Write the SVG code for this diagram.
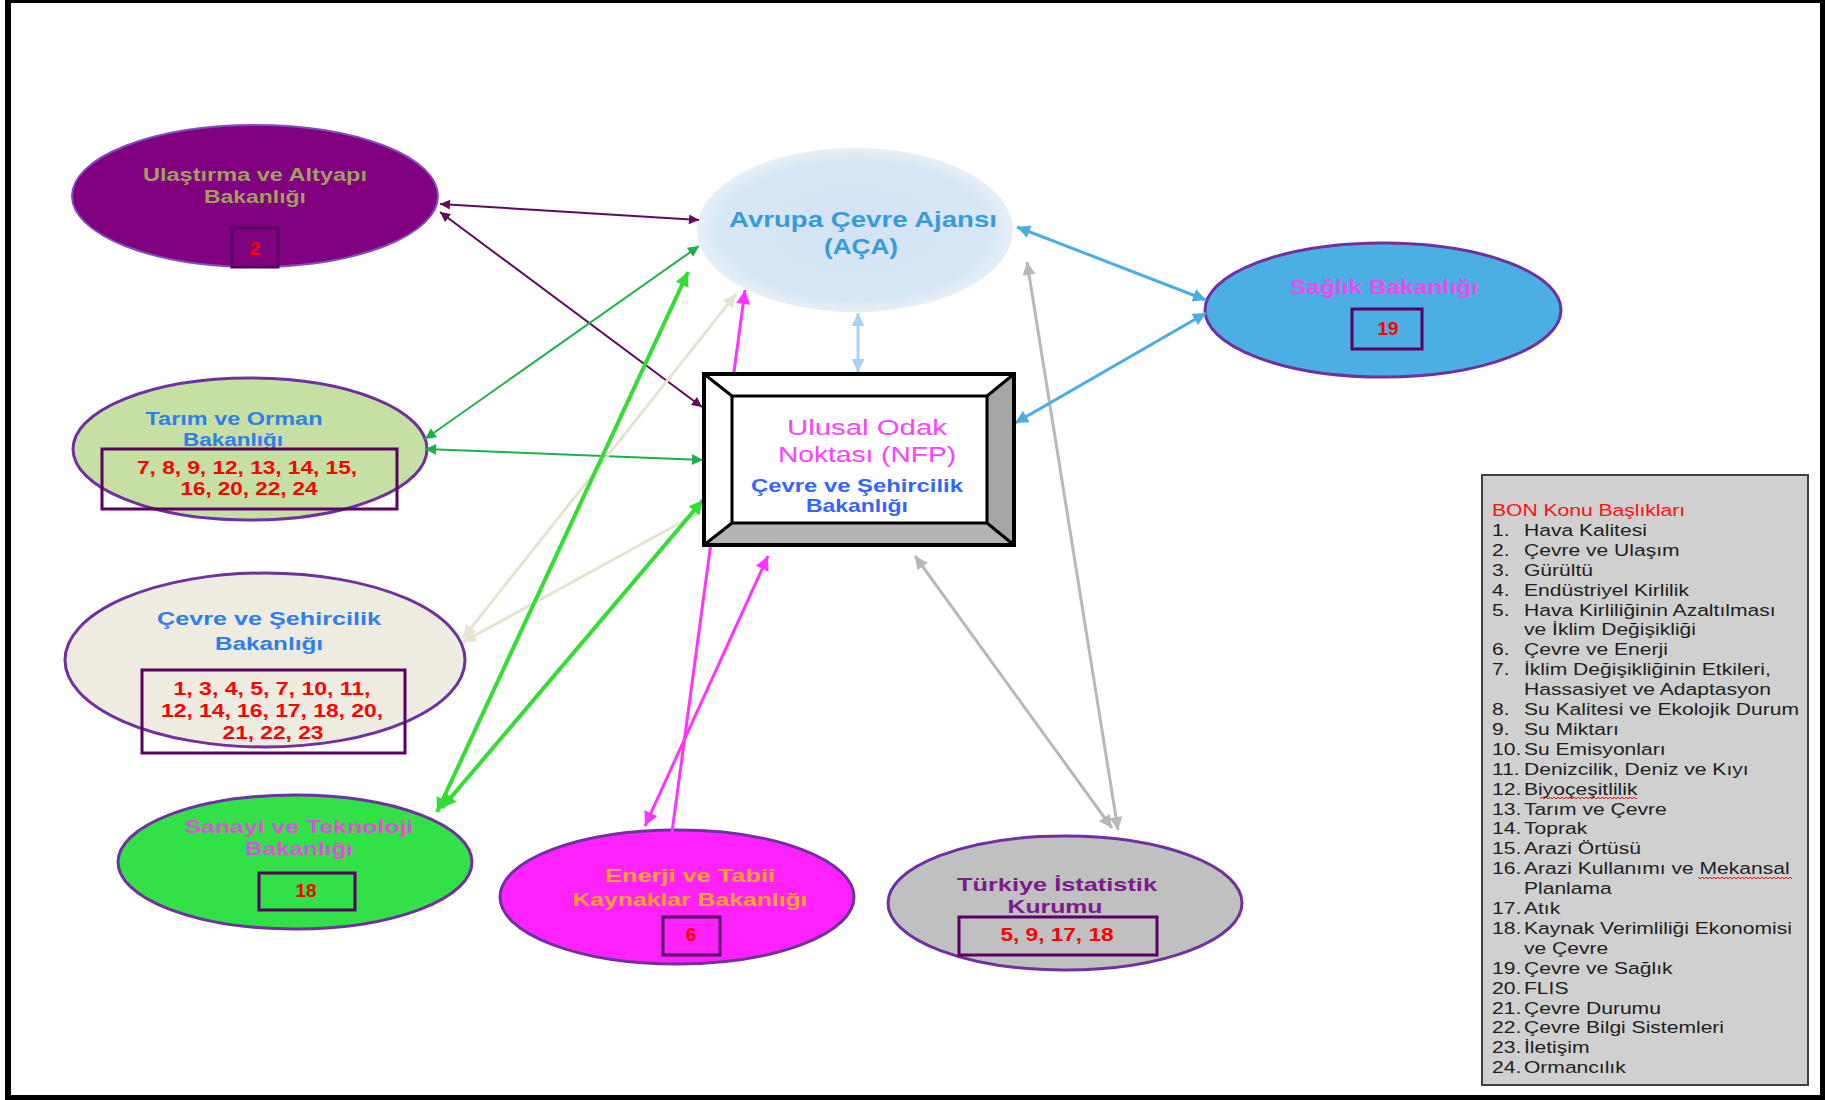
<svg xmlns="http://www.w3.org/2000/svg" width="1825" height="1100" viewBox="0 0 1825 1100">
<style>
text{font-family:"Liberation Sans",Arial,sans-serif;}
.b{font-weight:bold;}
.c{text-anchor:middle;}
.num{font-weight:bold;fill:#FF0000;text-anchor:middle;font-size:19px;}
.box{fill:none;stroke:#5A0060;stroke-width:3;}
.ell{stroke:#7030A0;stroke-width:3;}
.leg text{font-size:17px;fill:#1e1e1e;}
.con line{fill:none;}
</style>
<defs>
<marker id="aPur" viewBox="0 0 10 10" refX="10" refY="5" markerUnits="userSpaceOnUse" markerWidth="12" markerHeight="10" orient="auto-start-reverse"><path d="M0,0 L10,5 L0,10 z" fill="#5E0A5E"/></marker>
<marker id="aGrn" viewBox="0 0 10 10" refX="10" refY="5" markerUnits="userSpaceOnUse" markerWidth="13" markerHeight="11" orient="auto-start-reverse"><path d="M0,0 L10,5 L0,10 z" fill="#1FB04E"/></marker>
<marker id="aBei" viewBox="0 0 10 10" refX="10" refY="5" markerUnits="userSpaceOnUse" markerWidth="15" markerHeight="13" orient="auto-start-reverse"><path d="M0,0 L10,5 L0,10 z" fill="#E6E3D2"/></marker>
<marker id="aLim" viewBox="0 0 10 10" refX="10" refY="5" markerUnits="userSpaceOnUse" markerWidth="16" markerHeight="14" orient="auto-start-reverse"><path d="M0,0 L10,5 L0,10 z" fill="#33DD33"/></marker>
<marker id="aMag" viewBox="0 0 10 10" refX="10" refY="5" markerUnits="userSpaceOnUse" markerWidth="16" markerHeight="14" orient="auto-start-reverse"><path d="M0,0 L10,5 L0,10 z" fill="#FF33FF"/></marker>
<marker id="aGry" viewBox="0 0 10 10" refX="10" refY="5" markerUnits="userSpaceOnUse" markerWidth="15" markerHeight="13" orient="auto-start-reverse"><path d="M0,0 L10,5 L0,10 z" fill="#B8B8B8"/></marker>
<marker id="aBlu" viewBox="0 0 10 10" refX="10" refY="5" markerUnits="userSpaceOnUse" markerWidth="15" markerHeight="13" orient="auto-start-reverse"><path d="M0,0 L10,5 L0,10 z" fill="#4AAEE2"/></marker>
<marker id="aPal" viewBox="0 0 10 10" refX="10" refY="5" markerUnits="userSpaceOnUse" markerWidth="15" markerHeight="13" orient="auto-start-reverse"><path d="M0,0 L10,5 L0,10 z" fill="#A6D2F4"/></marker>
<radialGradient id="acaG" cx="50%" cy="50%" r="50%">
<stop offset="0" stop-color="#D2E3F4"/><stop offset="0.85" stop-color="#D8E7F5"/><stop offset="1" stop-color="#E6EFF8"/>
</radialGradient>
<pattern id="wave" width="4" height="4" patternUnits="userSpaceOnUse"><path d="M0,3 L2,1 L4,3" fill="none" stroke="#E02020" stroke-width="1"/></pattern>
</defs>
<rect width="1825" height="1100" fill="#FFFFFF"/>
<g id="frame" fill="#000000">
<rect x="5" y="0" width="6" height="1100"/>
<rect x="5" y="0" width="1820" height="3"/>
<rect x="1820" y="0" width="5" height="1100"/>
<rect x="5" y="1095" width="1820" height="5"/>
</g>

<g id="ulastirma">
<ellipse cx="255" cy="196" rx="183" ry="71" fill="#800080" stroke="#7F4FBF" stroke-width="2"/>
<text class="b c" x="255" y="181" font-size="18" fill="#A39D5E" textLength="224" lengthAdjust="spacingAndGlyphs">Ulaştırma ve Altyapı</text>
<text class="b c" x="255" y="203" font-size="18" fill="#A39D5E" textLength="102" lengthAdjust="spacingAndGlyphs">Bakanlığı</text>
<rect class="box" x="232" y="228" width="46" height="39"/>
<text class="num" x="255" y="255" font-size="18">2</text>
</g>

<g id="aca">
<ellipse cx="855" cy="230" rx="158" ry="82" fill="url(#acaG)"/>
<text class="b c" x="863" y="227" font-size="22" fill="#3A9AD9" textLength="268" lengthAdjust="spacingAndGlyphs">Avrupa Çevre Ajansı</text>
<text class="b c" x="861" y="254" font-size="22" fill="#3A9AD9" textLength="74" lengthAdjust="spacingAndGlyphs">(AÇA)</text>
</g>

<g id="saglik">
<ellipse class="ell" cx="1383" cy="310" rx="178" ry="67" fill="#4BAFE3"/>
<text class="b c" x="1384" y="294" font-size="20" fill="#F048F0" textLength="188" lengthAdjust="spacingAndGlyphs">Sağlık Bakanlığı</text>
<rect class="box" x="1352" y="309" width="70" height="40"/>
<text class="num" x="1388" y="335">19</text>
</g>

<g id="tarim">
<ellipse class="ell" cx="250" cy="449" rx="177" ry="71" fill="#C6E0A4"/>
<text class="b c" x="234" y="425" font-size="18" fill="#2E7FE8" textLength="177" lengthAdjust="spacingAndGlyphs">Tarım ve Orman</text>
<text class="b c" x="233" y="446" font-size="18" fill="#2E7FE8" textLength="100" lengthAdjust="spacingAndGlyphs">Bakanlığı</text>
<rect class="box" x="102" y="449" width="295" height="60"/>
<text class="num" x="247" y="474" font-size="20" textLength="220" lengthAdjust="spacingAndGlyphs">7, 8, 9, 12, 13, 14, 15,</text>
<text class="num" x="249" y="495" font-size="20" textLength="137" lengthAdjust="spacingAndGlyphs">16, 20, 22, 24</text>
</g>

<g id="cevre">
<ellipse class="ell" cx="265" cy="660" rx="200" ry="87" fill="#EEECE1"/>
<text class="b c" x="269" y="625" font-size="18" fill="#2E7FE8" textLength="224" lengthAdjust="spacingAndGlyphs">Çevre ve Şehircilik</text>
<text class="b c" x="269" y="650" font-size="18" fill="#2E7FE8" textLength="108" lengthAdjust="spacingAndGlyphs">Bakanlığı</text>
<rect class="box" x="142" y="670" width="263" height="83"/>
<text class="num" x="272" y="695" textLength="197" lengthAdjust="spacingAndGlyphs">1, 3, 4, 5, 7, 10, 11,</text>
<text class="num" x="272" y="717" textLength="222" lengthAdjust="spacingAndGlyphs">12, 14, 16, 17, 18, 20,</text>
<text class="num" x="273" y="739" textLength="101" lengthAdjust="spacingAndGlyphs">21, 22, 23</text>
</g>

<g id="sanayi">
<ellipse class="ell" cx="295" cy="862" rx="177" ry="67" fill="#32E048"/>
<text class="b c" x="299" y="833" font-size="19" fill="#E050E0" textLength="229" lengthAdjust="spacingAndGlyphs">Sanayi ve Teknoloji</text>
<text class="b c" x="299" y="855" font-size="19" fill="#E050E0" textLength="108" lengthAdjust="spacingAndGlyphs">Bakanlığı</text>
<rect class="box" x="259" y="873" width="96" height="37"/>
<text class="num" x="306" y="897">18</text>
</g>

<g id="enerji">
<ellipse class="ell" cx="677" cy="897" rx="177" ry="67" fill="#FF22FF"/>
<text class="b c" x="690" y="882" font-size="19" fill="#FFA62B" textLength="170" lengthAdjust="spacingAndGlyphs">Enerji ve Tabii</text>
<text class="b c" x="690" y="906" font-size="19" fill="#FFA62B" textLength="235" lengthAdjust="spacingAndGlyphs">Kaynaklar Bakanlığı</text>
<rect class="box" x="663" y="917" width="57" height="38"/>
<text class="num" x="691" y="941">6</text>
</g>

<g id="tuik">
<ellipse class="ell" cx="1065" cy="903" rx="177" ry="67" fill="#C0C0C0"/>
<text class="b c" x="1057" y="891" font-size="19" fill="#7D1A8C" textLength="200" lengthAdjust="spacingAndGlyphs">Türkiye İstatistik</text>
<text class="b c" x="1055" y="913" font-size="19" fill="#7D1A8C" textLength="95" lengthAdjust="spacingAndGlyphs">Kurumu</text>
<rect class="box" x="959" y="917" width="198" height="38"/>
<text class="num" x="1057" y="941" textLength="113" lengthAdjust="spacingAndGlyphs">5, 9, 17, 18</text>
</g>

<g id="connectors" class="con">
<line x1="440" y1="204" x2="699" y2="220" stroke="#5E0A5E" stroke-width="2" marker-start="url(#aPur)" marker-end="url(#aPur)"/>
<line x1="440" y1="212" x2="702" y2="407" stroke="#5E0A5E" stroke-width="2" marker-start="url(#aPur)" marker-end="url(#aPur)"/>
<line x1="425" y1="439" x2="699" y2="246" stroke="#1FB04E" stroke-width="2" marker-start="url(#aGrn)" marker-end="url(#aGrn)"/>
<line x1="425" y1="449" x2="703" y2="460" stroke="#1FB04E" stroke-width="2" marker-start="url(#aGrn)" marker-end="url(#aGrn)"/>
<line x1="463" y1="638" x2="736" y2="294" stroke="#E6E3D2" stroke-width="3" marker-start="url(#aBei)" marker-end="url(#aBei)"/>
<line x1="463" y1="642" x2="700" y2="512" stroke="#E6E3D2" stroke-width="3" marker-start="url(#aBei)"/>
<line x1="437" y1="812" x2="688" y2="272" stroke="#33DD33" stroke-width="4" marker-start="url(#aLim)" marker-end="url(#aLim)"/>
<line x1="442" y1="808" x2="703" y2="500" stroke="#33DD33" stroke-width="4" marker-start="url(#aLim)" marker-end="url(#aLim)"/>
<line x1="672" y1="832" x2="745" y2="290" stroke="#FF33FF" stroke-width="3" marker-end="url(#aMag)"/>
<line x1="645" y1="826" x2="768" y2="556" stroke="#FF33FF" stroke-width="3" marker-start="url(#aMag)" marker-end="url(#aMag)"/>
<line x1="1118" y1="830" x2="1027" y2="262" stroke="#B8B8B8" stroke-width="3" marker-start="url(#aGry)" marker-end="url(#aGry)"/>
<line x1="1112" y1="828" x2="915" y2="556" stroke="#B8B8B8" stroke-width="3" marker-start="url(#aGry)" marker-end="url(#aGry)"/>
<line x1="1017" y1="227" x2="1206" y2="300" stroke="#4AAEE2" stroke-width="3" marker-start="url(#aBlu)" marker-end="url(#aBlu)"/>
<line x1="1015" y1="423" x2="1206" y2="313" stroke="#4AAEE2" stroke-width="3" marker-start="url(#aBlu)" marker-end="url(#aBlu)"/>
<line x1="858" y1="313" x2="858" y2="372" stroke="#A6D2F4" stroke-width="3" marker-start="url(#aPal)" marker-end="url(#aPal)"/>
</g>

<g id="nfp">
<rect x="704" y="374" width="310" height="171" fill="#FFFFFF"/>
<polygon points="1014,374 1014,545 987,523 987,396" fill="#A6A6A6"/>
<polygon points="704,545 1014,545 987,523 732,523" fill="#B4B4B4"/>
<g fill="none" stroke="#000000" stroke-width="3">
<rect x="704" y="374" width="310" height="171" stroke-width="4"/>
<rect x="732" y="396" width="255" height="127"/>
<line x1="704" y1="374" x2="732" y2="396"/>
<line x1="1014" y1="374" x2="987" y2="396"/>
<line x1="704" y1="545" x2="732" y2="523"/>
<line x1="1014" y1="545" x2="987" y2="523"/>
</g>
<text class="c" x="867" y="435" font-size="22" fill="#FF40FF" textLength="160" lengthAdjust="spacingAndGlyphs">Ulusal Odak</text>
<text class="c" x="867" y="462" font-size="22" fill="#FF40FF" textLength="178" lengthAdjust="spacingAndGlyphs">Noktası (NFP)</text>
<text class="b c" x="857" y="492" font-size="19" fill="#3366FF" textLength="212" lengthAdjust="spacingAndGlyphs">Çevre ve Şehircilik</text>
<text class="b c" x="857" y="512" font-size="19" fill="#3366FF" textLength="102" lengthAdjust="spacingAndGlyphs">Bakanlığı</text>
</g>

<g id="legend">
<rect x="1482" y="475" width="326" height="610" fill="#D0D0D0" stroke="#404040" stroke-width="2"/>
<rect x="1540" y="795" width="97" height="4" fill="url(#wave)"/>
<rect x="1698" y="875" width="94" height="4" fill="url(#wave)"/>
<g class="leg" transform="translate(1492 0) scale(1.24 1)">
<text x="0" y="516" style="fill:#FF1010">BON Konu Başlıkları</text>
<text x="0" y="536">1.</text><text x="25.8" y="536">Hava Kalitesi</text>
<text x="0" y="555.9">2.</text><text x="25.8" y="555.9">Çevre ve Ulaşım</text>
<text x="0" y="575.8">3.</text><text x="25.8" y="575.8">Gürültü</text>
<text x="0" y="595.7">4.</text><text x="25.8" y="595.7">Endüstriyel Kirlilik</text>
<text x="0" y="615.6">5.</text><text x="25.8" y="615.6">Hava Kirliliğinin Azaltılması</text>
<text x="25.8" y="635.5">ve İklim Değişikliği</text>
<text x="0" y="655.4">6.</text><text x="25.8" y="655.4">Çevre ve Enerji</text>
<text x="0" y="675.3">7.</text><text x="25.8" y="675.3">İklim Değişikliğinin Etkileri,</text>
<text x="25.8" y="695.2">Hassasiyet ve Adaptasyon</text>
<text x="0" y="715.1">8.</text><text x="25.8" y="715.1">Su Kalitesi ve Ekolojik Durum</text>
<text x="0" y="735">9.</text><text x="25.8" y="735">Su Miktarı</text>
<text x="0" y="754.9">10.</text><text x="25.8" y="754.9">Su Emisyonları</text>
<text x="0" y="774.8">11.</text><text x="25.8" y="774.8">Denizcilik, Deniz ve Kıyı</text>
<text x="0" y="794.7">12.</text><text x="25.8" y="794.7">Biyoçeşitlilik</text>
<text x="0" y="814.6">13.</text><text x="25.8" y="814.6">Tarım ve Çevre</text>
<text x="0" y="834.5">14.</text><text x="25.8" y="834.5">Toprak</text>
<text x="0" y="854.4">15.</text><text x="25.8" y="854.4">Arazi Örtüsü</text>
<text x="0" y="874.3">16.</text><text x="25.8" y="874.3">Arazi Kullanımı ve Mekansal</text>
<text x="25.8" y="894.2">Planlama</text>
<text x="0" y="914.1">17.</text><text x="25.8" y="914.1">Atık</text>
<text x="0" y="934">18.</text><text x="25.8" y="934">Kaynak Verimliliği Ekonomisi</text>
<text x="25.8" y="953.9">ve Çevre</text>
<text x="0" y="973.8">19.</text><text x="25.8" y="973.8">Çevre ve Sağlık</text>
<text x="0" y="993.7">20.</text><text x="25.8" y="993.7">FLIS</text>
<text x="0" y="1013.6">21.</text><text x="25.8" y="1013.6">Çevre Durumu</text>
<text x="0" y="1033.5">22.</text><text x="25.8" y="1033.5">Çevre Bilgi Sistemleri</text>
<text x="0" y="1053.4">23.</text><text x="25.8" y="1053.4">İletişim</text>
<text x="0" y="1073.3">24.</text><text x="25.8" y="1073.3">Ormancılık</text>
</g>
</g>
</svg>
